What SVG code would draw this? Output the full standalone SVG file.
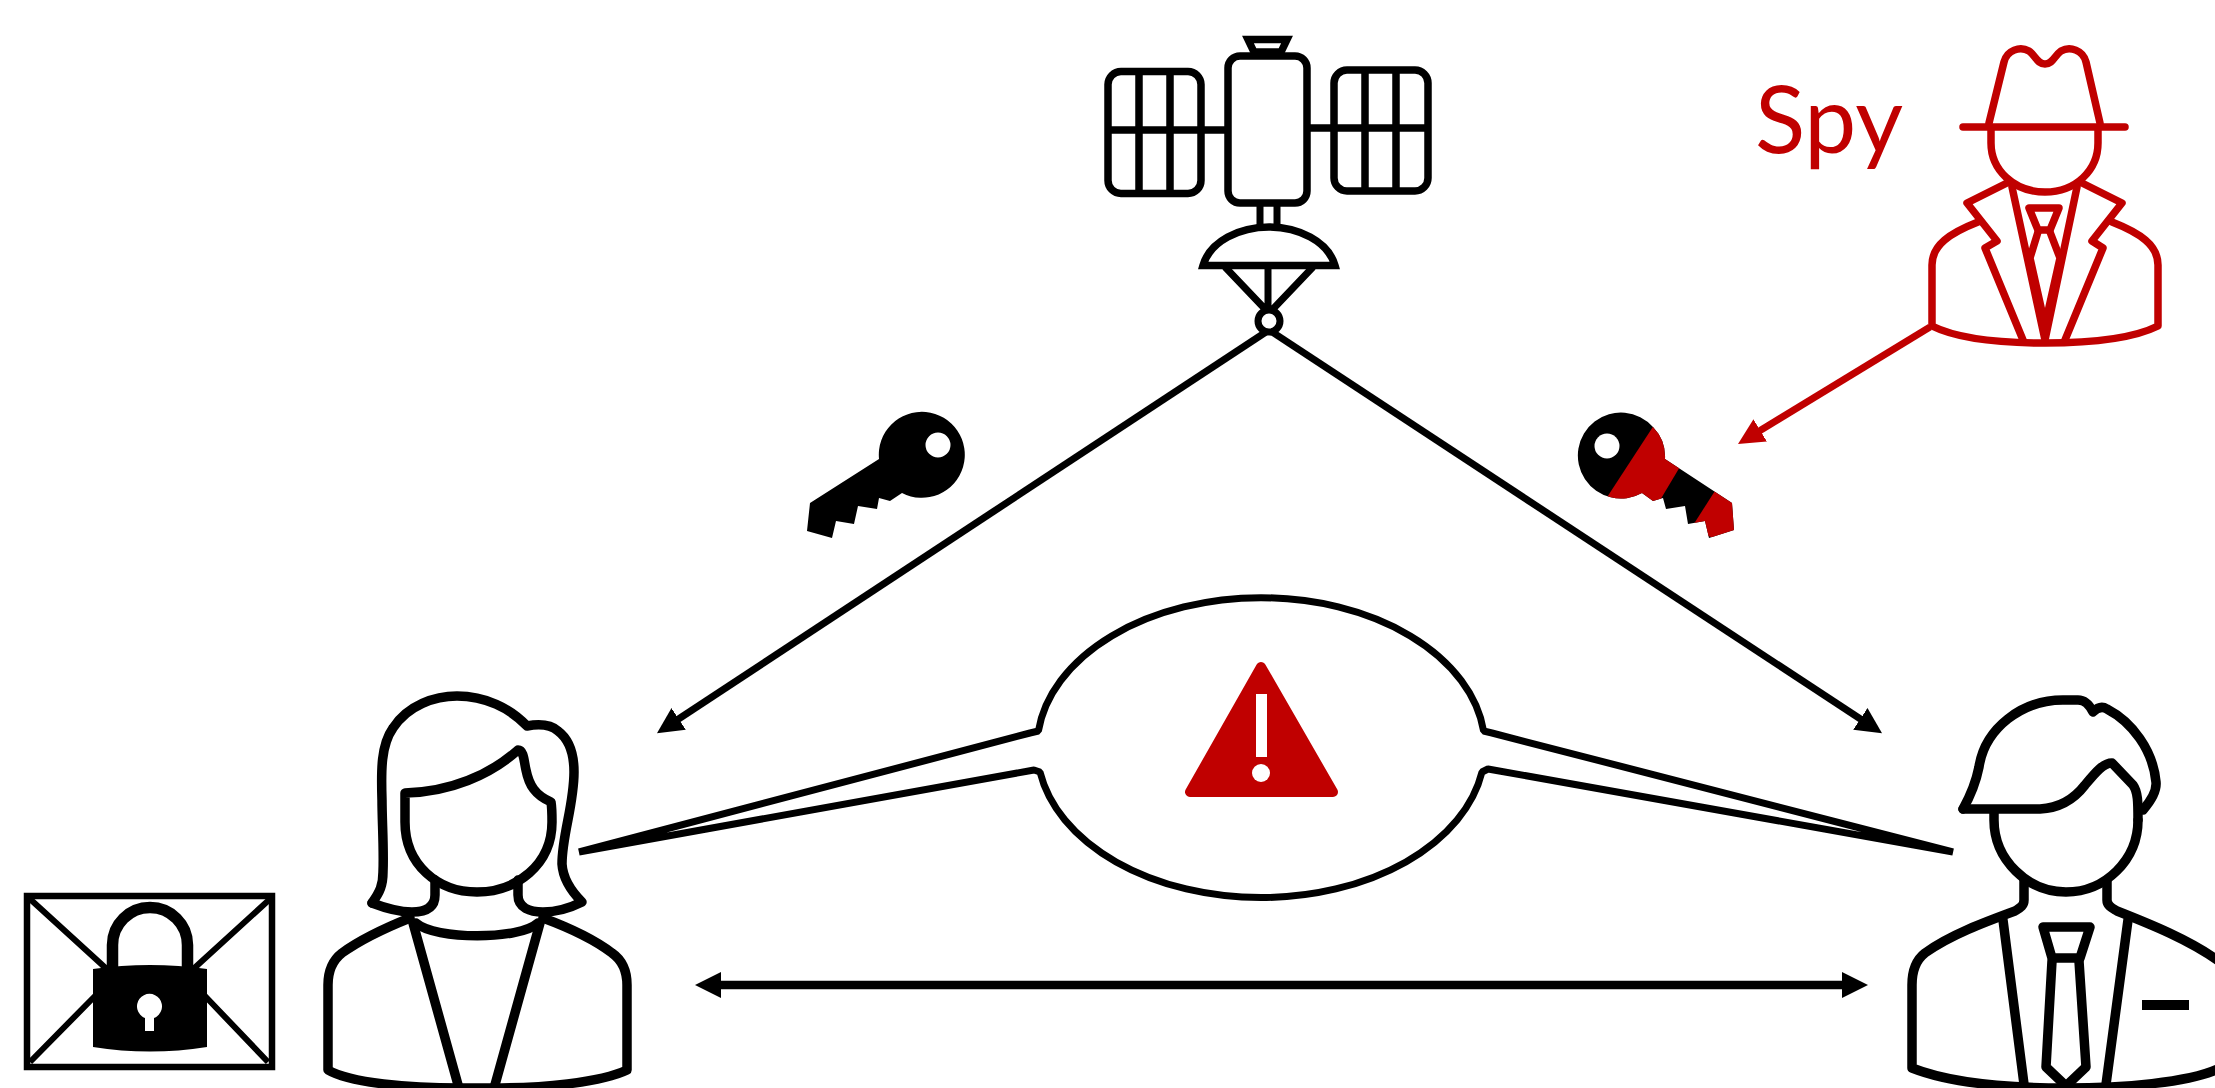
<svg xmlns="http://www.w3.org/2000/svg" width="2215" height="1088" viewBox="0 0 2215 1088">
<style>
.k{fill:none;stroke:#000;stroke-width:9.500;stroke-linejoin:round;stroke-linecap:round}
.s{fill:none;stroke:#000;stroke-width:7.500;stroke-linejoin:miter}
.r{fill:none;stroke:#C00000;stroke-width:7.500;stroke-linejoin:round;stroke-linecap:round}
.c{fill:none;stroke:#000;stroke-width:7}
.d{fill:none;stroke:#000;stroke-width:8.500}
.cr{fill:none;stroke:#C00000;stroke-width:7}
</style>
<defs>
<marker id="ak" markerUnits="userSpaceOnUse" markerWidth="28" markerHeight="28" refX="2" refY="13" orient="auto-start-reverse"><path d="M0,0L26,13L0,26Z" fill="#000"/></marker>
<marker id="ar" markerUnits="userSpaceOnUse" markerWidth="28" markerHeight="28" refX="2" refY="13" orient="auto"><path d="M0,0L26,13L0,26Z" fill="#C00000"/></marker>
<clipPath id="keyclip"><path d="M1653,427A43,43 0 1 0 1642,493L1653,501L1663,498L1666,509L1685,506L1688,524L1705,521L1709,538L1734,530L1732,503L1665,459A43,43 0 0 0 1653,427Z"/></clipPath>
</defs>
<rect width="2215" height="1088" fill="#fff"/>
<g id="connectors">
<path class="c" d="M1269,330L677,720" marker-end="url(#ak)"/>
<path class="c" d="M1269,330L1862,720" marker-end="url(#ak)"/>
<path class="cr" d="M1930,327L1758.500,431.500" marker-end="url(#ar)"/>
<path class="d" d="M719,985H1844" marker-start="url(#ak)" marker-end="url(#ak)"/>
</g>
<g id="satellite">
<path class="s" d="M1248,39.500H1287L1281,52H1254Z"/>
<rect class="s" x="1228" y="56" width="79" height="147" rx="12"/>
<rect class="s" x="1108" y="71.500" width="93" height="122" rx="13"/>
<rect class="s" x="1334" y="70" width="94" height="121" rx="13"/>
<path class="s" d="M1139,71V194M1170,71V194M1108,130H1228M1365,70V191M1396,70V191M1307,128H1428"/>
<path class="c" d="M1260,203V226M1277,203V226"/>
<path class="s" d="M1203,265.500C1210,241 1240,227 1269,227C1298,227 1328,241 1335,265.500Z"/>
<path class="c" d="M1225,267L1265,309M1313,267L1273,309M1268,267V311"/>
<circle cx="1269" cy="321" r="11" fill="#fff" stroke="#000" stroke-width="7"/>
</g>
<g id="spy">
<text x="1755" y="153" font-family="Lato,sans-serif" font-size="94" fill="#C00000" textLength="148" lengthAdjust="spacingAndGlyphs">Spy</text>
<path class="r" d="M1989,123L2004,62C2007,50 2020,46 2029,51C2036,56 2037,64 2045,64C2053,64 2054,56 2061,51C2070,46 2083,50 2086,62L2100,123"/>
<path class="r" d="M1963,127H2125"/>
<path class="r" d="M1991,130V143C1991,170 2014,192 2045,192C2076,192 2098,170 2098,143V130"/>
<path class="r" d="M2007,183L1967,203L1997,241L1985,248L2023,340M2082,183L2122,203L2092,241L2103,248L2065,340"/>
<path class="r" d="M2012,187L2045,340L2077,187"/>
<path class="r" d="M2029,208H2059L2050,230H2038Z"/>
<path class="r" d="M2038,232L2030,258L2045,325L2060,258L2050,232"/>
<path class="r" d="M1978,222C1950,233 1932,245 1932,265V326C1960,340 2010,343 2045,343C2080,343 2130,340 2158,326V265C2158,245 2140,233 2112,222"/>
</g>
<g id="key-left">
<path fill="#000" fill-rule="evenodd" d="M879,459L810,503L807,531L832,538L836,521L854,524L858,506L877,509L879,498L890,501L902,493A43,43 0 1 0 879,459ZM950.500,445A12.500,12.500 0 1 1 925.500,445A12.500,12.500 0 1 1 950.500,445Z"/>
</g>
<g id="key-right">
<path fill="#000" d="M1653,427A43,43 0 1 0 1642,493L1653,501L1663,498L1666,509L1685,506L1688,524L1705,521L1709,538L1734,530L1732,503L1665,459A43,43 0 0 0 1653,427Z"/>
<g clip-path="url(#keyclip)" fill="#C00000">
<path d="M1660,416L1690,450L1650,517L1600,508Z"/>
<path d="M1720,483L1760,490L1750,550L1690,530Z"/>
</g>
<circle cx="1607" cy="446" r="12.500" fill="#fff"/>
</g>
<g id="warning-bubble">
<path fill="#fff" stroke="#000" stroke-width="7" stroke-linejoin="bevel" d="M579,852L1030,733L1038.400,731A224,150 0 0 1 1483.600,731L1492,733L1953,852L1488,769L1482,772A224,150 0 0 1 1040,772L1034,770Z"/>
<path fill="#C00000" stroke="#C00000" stroke-width="10" stroke-linejoin="round" d="M1261,667L1190,792H1333Z"/>
<rect x="1256" y="694" width="11" height="63" fill="#fff"/>
<circle cx="1261" cy="773" r="9" fill="#fff"/>
</g>
<g id="envelope">
<rect x="27" y="896" width="245" height="171" fill="#fff" stroke="#000" stroke-width="6.500"/>
<path stroke="#000" stroke-width="6" fill="none" d="M30,899L110,972M96,995L30,1062M270,899L190,972M204,995L268,1062"/>
<path d="M112.500,970V945A37.500,37.500 0 0 1 187.500,945V970" fill="none" stroke="#000" stroke-width="11.500"/>
<path fill="#000" d="M93,969Q150,961 207,969V1047Q150,1056 93,1047Z"/>
<path fill="#fff" d="M145,1018A12.500,12.500 0 1 1 154,1018V1031H145Z"/>
</g>
<g id="woman">
<path class="k" d="M372,903C380,892 383,885 383,872C384,850 382,820 382,800C381,770 381,745 393,728C408,705 435,696 457,696C485,696 510,708 527,726C538,724 550,724 558,731C570,740 574,755 574,772C574,805 562,835 562,864C563,880 572,892 582,902C570,908 555,912 543,912C530,912 518,908 518,895V880"/>
<path class="k" d="M372,903C385,908 398,912 412,912C425,912 435,908 435,895V880"/>
<path class="k" d="M518,750C490,775 450,792 405,793V822C405,865 438,892 477,892C516,892 552,865 552,822C552,815 552,808 551,802C535,795 529,785 526,770C524,762 524,750 518,750Z"/>
<path class="k" d="M416,923C435,940 520,940 538,923"/>
<path class="k" d="M410,918C385,928 360,940 342,953C333,960 328,970 328,985V1070C350,1083 410,1088 460,1088H493C540,1088 600,1083 627,1070V985C627,970 622,960 612,953C595,940 570,928 543,918"/>
<path class="k" d="M413,923L460,1092M540,923L493,1092"/>
</g>
<g id="man">
<path class="k" d="M1963,809C1972,793 1976,782 1979,767C1985,728 2022,700 2063,700H2078C2085,700 2089,704 2093,712C2097,708 2102,706 2107,709C2132,722 2153,750 2156,782C2157,792 2150,802 2143,810"/>
<path class="k" d="M1963,809H2040C2060,808 2075,798 2085,785C2095,773 2103,763 2112,763L2133,785C2138,792 2138,802 2138,820"/>
<path class="k" d="M1994,811V820C1994,860 2028,892 2066,892C2105,892 2138,860 2138,820"/>
<path class="k" d="M2024,880V900C2024,906 2020,908 2015,911C1985,922 1950,935 1925,953C1916,960 1912,970 1912,985V1068C1950,1083 2010,1088 2066,1088C2120,1088 2190,1083 2220,1068"/>
<path class="k" d="M2107,880V900C2107,906 2112,908 2117,911C2150,924 2190,940 2220,962"/>
<path class="k" d="M2003,920L2025,1092M2128,920L2105,1092"/>
<path class="k" d="M2043,927H2090L2080,958H2052Z"/>
<path class="k" d="M2052,961L2046,1067L2066,1086L2086,1067L2079,961"/>
<rect x="2142" y="1000" width="47" height="10" fill="#000"/>
</g>
</svg>
